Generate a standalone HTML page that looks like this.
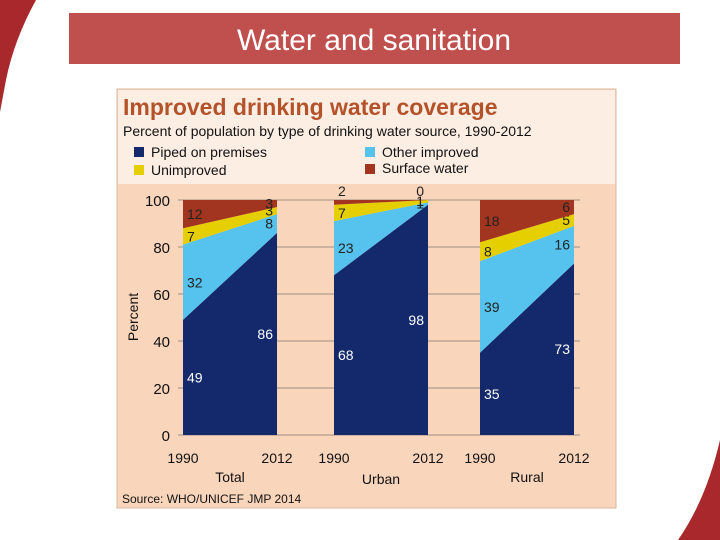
<!DOCTYPE html>
<html><head><meta charset="utf-8"><style>
body{margin:0;width:720px;height:540px;background:#fff;overflow:hidden;position:relative;font-family:"Liberation Sans",sans-serif}
</style></head><body>
<svg width="720" height="540" viewBox="0 0 720 540" style="position:absolute;left:0;top:0">
<path d="M0,0 L36,0 Q14,40 6,80 L0,112 Z" fill="#a8282c"/>
<path d="M720,440 L720,540 L678,540 Q706,500 720,440 Z" fill="#a8282c"/>
<rect x="69" y="13" width="611" height="51" fill="#c0504d"/>
<text x="374" y="50" text-anchor="middle" font-size="30" fill="#fff">Water and sanitation</text>
<rect x="117" y="89" width="499" height="419" fill="#f9d5bb" stroke="#d9b8a0"/>
<rect x="118" y="90" width="497" height="94" fill="#fdeee4"/>
<text x="123" y="115" font-size="23" font-weight="bold" fill="#b4522a">Improved drinking water coverage</text>
<text x="123" y="136" font-size="14" fill="#111">Percent of population by type of drinking water source, 1990-2012</text>
<rect x="134" y="147" width="10" height="10" fill="#13296b"/>
<text x="151" y="157" font-size="14" fill="#111">Piped on premises</text>
<rect x="134" y="165" width="10" height="10" fill="#e6cf00"/>
<text x="151" y="175" font-size="14" fill="#111">Unimproved</text>
<rect x="365" y="147" width="10" height="10" fill="#56c3ef"/>
<text x="382" y="157" font-size="14" fill="#111">Other improved</text>
<rect x="365" y="164" width="10" height="10" fill="#a23520"/>
<text x="382" y="173" font-size="14" fill="#111">Surface water</text>
<g id="plot"></g>
<text transform="translate(138,317) rotate(-90)" text-anchor="middle" font-size="14" fill="#111">Percent</text>
<text x="122" y="503" font-size="12" fill="#111">Source:  WHO/UNICEF JMP 2014</text>
</svg>
<script>
const groups=['Total','Urban','Rural'];
const years=['1990','2012'];
const piped1990=[49,68,35], piped2012=[86,98,73];
const other1990=[32,23,39], other2012=[8,1,16];
const unimp1990=[7,7,8], unimp2012=[3,1,5];
const surf1990=[12,2,18], surf2012=[3,0,6];
const yTicks=[0,20,40,60,80,100];
const colors=['#13296b','#56c3ef','#e6cf00','#a23520'];
const labelColors=['#fff','#222','#222','#222'];
const segNames=['piped','other','unimproved','surface'];
const NS='http://www.w3.org/2000/svg';
const g=document.getElementById('plot');
const y0=435,y100=200;
const y=v=>y0-(y0-y100)*v/100;
const gx0=[183,334,480], gw=94;
function mk(t,a){const e=document.createElementNS(NS,t);for(const k in a)e.setAttribute(k,a[k]);g.appendChild(e);return e;}
yTicks.forEach(t=>{
 const l=mk('line',{x1:178,x2:580,y1:y(t),y2:y(t),stroke:'#a09080','stroke-width':1});
 
 
 const tx=mk('text',{x:170,y:y(t)+6,'text-anchor':'end','font-size':15,fill:'#111'});tx.textContent=t;
 
 
});
groups.forEach((gr,i)=>{
 const a=[piped1990[i],other1990[i],unimp1990[i],surf1990[i]];
 const b=[piped2012[i],other2012[i],unimp2012[i],surf2012[i]];
 const xl=gx0[i],xr=gx0[i]+gw;
 let ca=0,cb=0;
 for(let s=0;s<4;s++){
  const na=ca+a[s],nb=cb+b[s];
  const p=mk('polygon',{points:`${xl},${y(ca)} ${xr},${y(cb)} ${xr},${y(nb)} ${xl},${y(na)}`,fill:colors[s]});
  
  
  const ay=(s==3&&a[s]<=2)?y(100)-4:y(ca+a[s]/2)+5;
  const by=(s==3&&b[s]<=2)?y(100)-4:y(cb+b[s]/2)+5;
  const t1=mk('text',{x:xl+4,y:ay,'font-size':14,fill:labelColors[s]});t1.textContent=a[s];
  
  
  const t2=mk('text',{x:xr-4,y:by,'text-anchor':'end','font-size':14,fill:labelColors[s]});t2.textContent=b[s];
  
  
  ca=na;cb=nb;
 }
 const ya=mk('text',{x:xl,y:463,'text-anchor':'middle','font-size':14,fill:'#111'});ya.textContent=years[0];
 
 
 const yb=mk('text',{x:xr,y:463,'text-anchor':'middle','font-size':14,fill:'#111'});yb.textContent=years[1];
 
 
 const gl=mk('text',{x:xl+gw/2,y:i==1?484:482,'text-anchor':'middle','font-size':14,fill:'#111'});gl.textContent=gr;
 
 
});
</script>
</body></html>
